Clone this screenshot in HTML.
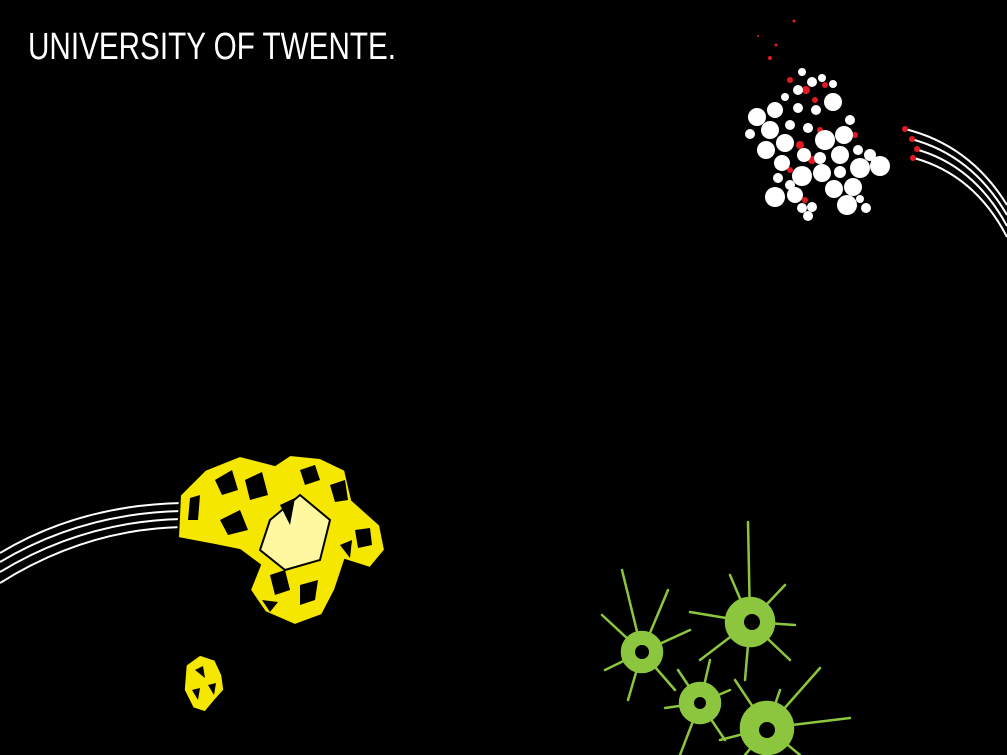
<!DOCTYPE html>
<html><head><meta charset="utf-8"><style>
html,body{margin:0;padding:0;background:#000;width:1007px;height:755px;overflow:hidden}
svg{display:block}
</style></head><body>
<svg width="1007" height="755" viewBox="0 0 1007 755">
<rect width="1007" height="755" fill="#000"/>
<text x="28" y="59" fill="#fff" font-family="Liberation Sans, sans-serif" font-size="38" textLength="368" lengthAdjust="spacingAndGlyphs">UNIVERSITY OF TWENTE.</text>

<g fill="none" stroke="#fff" stroke-width="2">
<path d="M905 129 Q970 145 1007 205"/>
<path d="M911 139 Q972 155 1007 215"/>
<path d="M915 149 Q974 165 1007 226"/>
<path d="M914 158 Q975 175 1007 237"/>
</g>
<g fill="#e21b22">
<circle cx="905" cy="129" r="3"/><circle cx="912" cy="139" r="3"/><circle cx="917" cy="149" r="3"/><circle cx="913" cy="158" r="3"/>
<circle cx="794" cy="21" r="1.5"/><circle cx="776" cy="45" r="1.5"/><circle cx="770" cy="58" r="2"/><circle cx="758" cy="36" r="1"/>
<circle cx="790" cy="80" r="3"/><circle cx="806" cy="90" r="4"/><circle cx="815" cy="100" r="3"/><circle cx="800" cy="145" r="4"/><circle cx="820" cy="130" r="3"/><circle cx="812" cy="160" r="4"/><circle cx="835" cy="155" r="3"/><circle cx="855" cy="135" r="3"/><circle cx="790" cy="170" r="3"/><circle cx="805" cy="200" r="3"/><circle cx="825" cy="85" r="3"/>
</g>
<g fill="#fff">
<circle cx="802" cy="72" r="4"/><circle cx="812" cy="82" r="5"/><circle cx="822" cy="78" r="4"/><circle cx="833" cy="84" r="4"/><circle cx="798" cy="90" r="5"/><circle cx="785" cy="97" r="4"/>
<circle cx="833" cy="102" r="9"/><circle cx="816" cy="110" r="5"/><circle cx="798" cy="108" r="5"/><circle cx="775" cy="110" r="8"/><circle cx="757" cy="117" r="9"/>
<circle cx="770" cy="130" r="9"/><circle cx="750" cy="134" r="5"/><circle cx="790" cy="125" r="5"/><circle cx="808" cy="128" r="5"/><circle cx="825" cy="140" r="10"/><circle cx="844" cy="135" r="9"/><circle cx="850" cy="120" r="5"/>
<circle cx="785" cy="143" r="9"/><circle cx="766" cy="150" r="9"/><circle cx="804" cy="155" r="7"/><circle cx="820" cy="158" r="6"/><circle cx="840" cy="155" r="9"/><circle cx="858" cy="150" r="5"/><circle cx="870" cy="155" r="6"/>
<circle cx="782" cy="163" r="8"/><circle cx="860" cy="168" r="10"/><circle cx="880" cy="166" r="10"/><circle cx="802" cy="176" r="10"/><circle cx="822" cy="173" r="9"/><circle cx="840" cy="172" r="6"/>
<circle cx="778" cy="178" r="5"/><circle cx="790" cy="185" r="5"/><circle cx="834" cy="189" r="9"/><circle cx="853" cy="187" r="9"/><circle cx="775" cy="197" r="10"/><circle cx="795" cy="195" r="8"/>
<circle cx="847" cy="205" r="10"/><circle cx="866" cy="208" r="5"/><circle cx="812" cy="207" r="5"/><circle cx="802" cy="208" r="5"/><circle cx="808" cy="216" r="5"/><circle cx="860" cy="199" r="4"/>
</g>

<g fill="none" stroke="#fff" stroke-width="2">
<path d="M0 553 Q80 505 182 503"/>
<path d="M0 562 Q82 513 182 511"/>
<path d="M0 572 Q84 521 182 519"/>
<path d="M0 583 Q86 529 182 527"/>
</g>
<g fill="#f5e700" stroke="#000" stroke-width="2">
<polygon points="180,495 205,470 240,456 275,465 290,455 320,458 345,470 352,500 380,525 385,550 370,568 345,560 335,590 322,615 295,625 265,612 250,590 260,565 240,550 215,545 178,538"/>
<polygon points="270,520 300,495 330,520 320,560 285,570 260,550" fill="#fff8a0"/>
<g fill="#000" stroke="none">
<polygon points="190,498 200,495 198,520 188,520"/><polygon points="215,480 232,470 238,490 222,495"/><polygon points="245,480 262,472 268,495 250,500"/>
<polygon points="300,470 315,465 320,480 305,485"/><polygon points="330,485 345,480 348,500 335,502"/><polygon points="220,520 240,510 248,530 228,535"/>
<polygon points="270,575 285,570 290,590 275,595"/><polygon points="300,585 318,580 315,600 300,605"/><polygon points="280,505 295,498 290,525"/>
<polygon points="355,530 370,528 372,545 358,548"/><polygon points="340,545 352,540 350,558"/><polygon points="262,600 278,602 270,612"/>
</g>
</g>
<g fill="#f5e700" stroke="#000" stroke-width="1.5">
<polygon points="186,665 200,655 215,660 222,675 224,690 215,700 205,712 193,708 184,690"/>
<g fill="#000" stroke="none"><polygon points="195,670 203,666 205,678"/><polygon points="208,685 216,683 214,695"/><polygon points="192,690 200,688 198,700"/></g>
</g>

<g fill="#8cc63f" stroke="#8cc63f" stroke-width="2.5" stroke-linecap="round">
<g>
<circle cx="642" cy="652" r="20"/>
<path d="M642 652 L622 570 M642 652 L602 615 M642 652 L605 670 M642 652 L628 700 M642 652 L675 690 M642 652 L690 630 M642 652 L668 590" fill="none"/>
<circle cx="642" cy="652" r="7" fill="#000" stroke="none"/>
</g>
<g>
<circle cx="750" cy="622" r="24"/>
<path d="M750 622 L748 522 M750 622 L690 612 M750 622 L700 660 M750 622 L745 680 M750 622 L790 660 M750 622 L795 625 M750 622 L785 585 M750 622 L730 575" fill="none"/>
<circle cx="752" cy="622" r="8" fill="#000" stroke="none"/>
</g>
<g>
<circle cx="700" cy="703" r="20"/>
<path d="M700 703 L665 708 M700 703 L680 755 M700 703 L725 740 M700 703 L730 690 M700 703 L710 660 M700 703 L678 670" fill="none"/>
<circle cx="700" cy="703" r="6" fill="#000" stroke="none"/>
</g>
<g>
<circle cx="767" cy="728" r="26"/>
<path d="M767 728 L735 680 M767 728 L720 740 M767 728 L745 755 M767 728 L800 755 M767 728 L850 718 M767 728 L820 668 M767 728 L780 690" fill="none"/>
<circle cx="767" cy="730" r="8" fill="#000" stroke="none"/>
</g>
</g>
</svg>
</body></html>
